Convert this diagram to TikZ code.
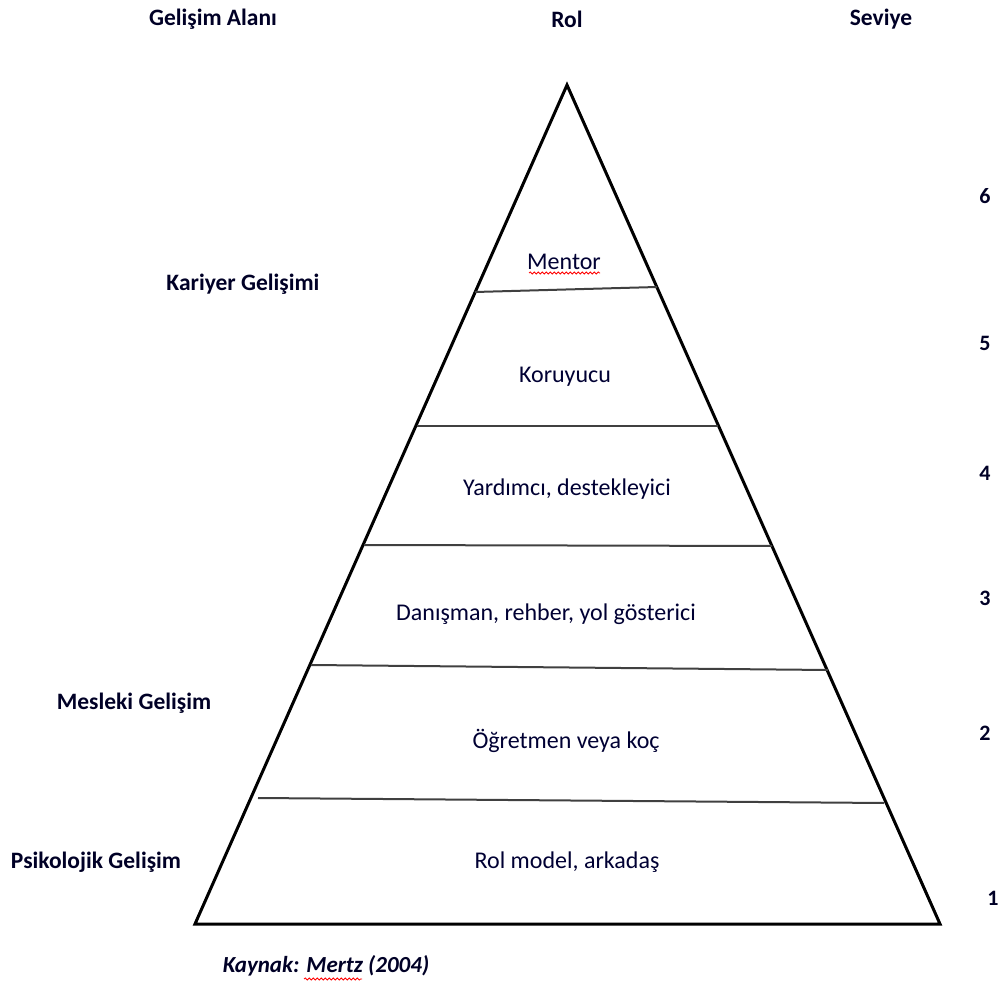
\documentclass[tikz,border=0pt]{standalone}
\usepackage{fontspec}
\setmainfont{Carlito}
\usetikzlibrary{decorations.pathmorphing}
\begin{document}
\begin{tikzpicture}[x=1pt,y=-1pt,
  head/.style={font=\fontsize{23.5}{28}\selectfont\bfseries,text=black!85!blue},
  side/.style={font=\fontsize{23.5}{28}\selectfont\bfseries,text=black!85!blue},
  lvl/.style={font=\fontsize{22}{26}\selectfont\bfseries,text=black!85!blue},
  role/.style={font=\fontsize{24}{28}\selectfont,text=black!80!blue},
  edge/.style={line width=3pt,line join=miter},
  divider/.style={line width=2pt,draw=black!75},
  spell/.style={draw=red,line width=0.8pt,decorate,decoration={snake,amplitude=1pt,segment length=4pt}}]
\useasboundingbox (0,0) rectangle (1005,987);

% pyramid outline
\coordinate (apex) at (567,85);
\coordinate (bl) at (195,924);
\coordinate (br) at (940,924);
\draw[edge] (apex) -- (br) -- (bl) -- cycle;

% level dividers
\coordinate (d1l) at (475,292); \coordinate (d1r) at (657,287);
\coordinate (d2l) at (417,426); \coordinate (d2r) at (718,426);
\coordinate (d3l) at (364,545); \coordinate (d3r) at (772,546);
\coordinate (d4l) at (311,665); \coordinate (d4r) at (828,670);
\coordinate (d5l) at (258,798); \coordinate (d5r) at (884,803);
\draw[divider] (d1l) -- (d1r);
\draw[divider] (d2l) -- (d2r);
\draw[divider] (d3l) -- (d3r);
\draw[divider] (d4l) -- (d4r);
\draw[divider] (d5l) -- (d5r);

% column headings
\node[head] (hg) at (213,19) {Gelişim Alanı};
\node[head] (hr) at (567,19) {Rol};
\node[head] (hs) at (881,19) {Seviye};

% development areas
\node[side] (kg) at (243,284) {Kariyer Gelişimi};
\node[side] (mg) at (134,703) {Mesleki Gelişim};
\node[side] (pg) at (96,862) {Psikolojik Gelişim};

% level numbers
\node[lvl] (n6) at (985,196) {6};
\node[lvl] (n5) at (985,343) {5};
\node[lvl] (n4) at (985,473) {4};
\node[lvl] (n3) at (985,598) {3};
\node[lvl] (n2) at (985,733) {2};
\node[lvl] (n1) at (993,898) {1};

% roles
\node[role] (r6) at (564,262) {Mentor};
\node[role] (r5) at (565,377) {Koruyucu};
\node[role] (r4) at (567,489) {Yardımcı, destekleyici};
\node[role] (r3) at (546,614) {Danışman, rehber, yol gösterici};
\node[role] (r2) at (566,741) {Öğretmen veya koç};
\node[role] (r1) at (567,862) {Rol model, arkadaş};

% source
\node[font=\fontsize{23}{27}\selectfont\bfseries\itshape,text=black!85!blue] (src) at (326,966) {Kaynak: Mertz (2004)};

% spelling marks
\coordinate (s1a) at (529,273); \coordinate (s1b) at (600,273);
\draw[spell] (s1a) -- (s1b);
\coordinate (s2a) at (304,979); \coordinate (s2b) at (362,979);
\draw[spell] (s2a) -- (s2b);
\end{tikzpicture}
\end{document}
